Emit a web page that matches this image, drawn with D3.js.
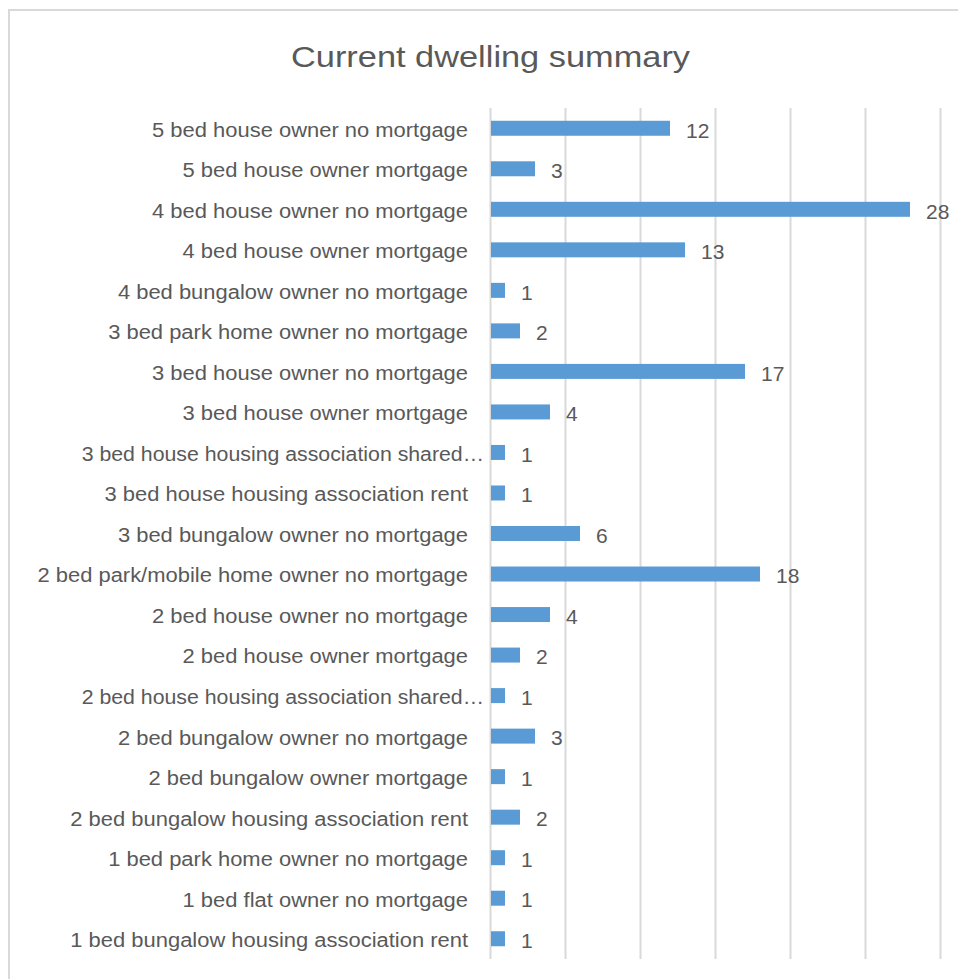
<!DOCTYPE html>
<html>
<head>
<meta charset="utf-8">
<script src="https://cdn.jsdelivr.net/npm/d3@7"></script>
<style>
  html, body { margin: 0; padding: 0; background: #ffffff; }
  svg { display: block; }
</style>
</head>
<body>
<svg id="chart" width="958" height="979"></svg>
<script>
const chartTitle = "Current dwelling summary";
const categories = [
  "5 bed house owner no mortgage",
  "5 bed house owner mortgage",
  "4 bed house owner no mortgage",
  "4 bed house owner mortgage",
  "4 bed bungalow owner no mortgage",
  "3 bed park home owner no mortgage",
  "3 bed house owner no mortgage",
  "3 bed house owner mortgage",
  "3 bed house housing association shared\u2026",
  "3 bed house housing association rent",
  "3 bed bungalow owner no mortgage",
  "2 bed park/mobile home owner no mortgage",
  "2 bed house owner no mortgage",
  "2 bed house owner mortgage",
  "2 bed house housing association shared\u2026",
  "2 bed bungalow owner no mortgage",
  "2 bed bungalow owner mortgage",
  "2 bed bungalow housing association rent",
  "1 bed park home owner no mortgage",
  "1 bed flat owner no mortgage",
  "1 bed bungalow housing association rent"
];
const values = [12, 3, 28, 13, 1, 2, 17, 4, 1, 1, 6, 18, 4, 2, 1, 3, 1, 2, 1, 1, 1];
const gridTicks = [0, 5, 10, 15, 20, 25, 30];

const data = categories.map((c, i) => ({ cat: c, val: values[i] }));

const svg = d3.select("#chart");
const textColor = "#595959";
const gridColor = "#D9D9D9";
const barColor = "#5B9BD5";

// chart border (cropped on right and bottom)
svg.append("rect")
  .attr("x", 9).attr("y", 10)
  .attr("width", 1000).attr("height", 1000)
  .attr("fill", "none")
  .attr("stroke", gridColor)
  .attr("stroke-width", 2);

const x = d3.scaleLinear().domain([0, 30]).range([490, 940]);
const y = d3.scaleBand().domain(categories).range([108, 959])
  .paddingInner(0.63).paddingOuter(0.315);

// gridlines
const gx = svg.append("g")
  .call(d3.axisBottom(x).tickValues(gridTicks).tickSize(959 - 108).tickFormat(""));
gx.attr("transform", "translate(0,108)");
gx.select(".domain").remove();
gx.selectAll(".tick line").attr("stroke", gridColor).attr("stroke-width", 2);

// title
svg.append("text")
  .attr("x", 490.5).attr("y", 67)
  .attr("text-anchor", "middle")
  .attr("font-family", "Liberation Sans, Arial, sans-serif")
  .attr("font-size", 29)
  .attr("fill", textColor)
  .attr("textLength", 399)
  .attr("lengthAdjust", "spacingAndGlyphs")
  .text(chartTitle);

// bars
svg.append("g").selectAll("rect").data(data).join("rect")
  .attr("x", x(0) + 1)
  .attr("y", d => y(d.cat))
  .attr("width", d => x(d.val) - x(0) - 1)
  .attr("height", y.bandwidth())
  .attr("fill", barColor);

// category labels via axis
const ay = svg.append("g").attr("transform", `translate(${x(0)},0)`)
  .call(d3.axisLeft(y).tickSize(0).tickPadding(22));
ay.select(".domain").remove();
ay.selectAll(".tick text")
  .attr("font-family", "Liberation Sans, Arial, sans-serif")
  .attr("font-size", 20)
  .attr("fill", textColor)
  .attr("dy", "0.42em");

// fit widths to reference (Calibri-like narrowness)
const refLabel = "1 bed bungalow housing association rent";
let k = 1;
ay.selectAll(".tick text").each(function(d) {
  if (d === refLabel) k = 397.7 / this.getComputedTextLength();
});
ay.selectAll(".tick text").each(function(d) {
  const w = this.getComputedTextLength();
  const truncated = d.endsWith("\u2026");
  d3.select(this)
    .attr("textLength", w * k * (truncated ? 0.97 : 1))
    .attr("lengthAdjust", "spacingAndGlyphs")
    .attr("x", truncated ? -6 : -22);
});

// value labels
svg.append("g").selectAll("text").data(data).join("text")
  .attr("x", d => x(d.val) + 16)
  .attr("y", d => y(d.cat) + y.bandwidth() / 2)
  .attr("dy", "0.44em")
  .attr("font-family", "Liberation Sans, Arial, sans-serif")
  .attr("font-size", 21)
  .attr("fill", textColor)
  .text(d => d.val);
</script>
</body>
</html>
